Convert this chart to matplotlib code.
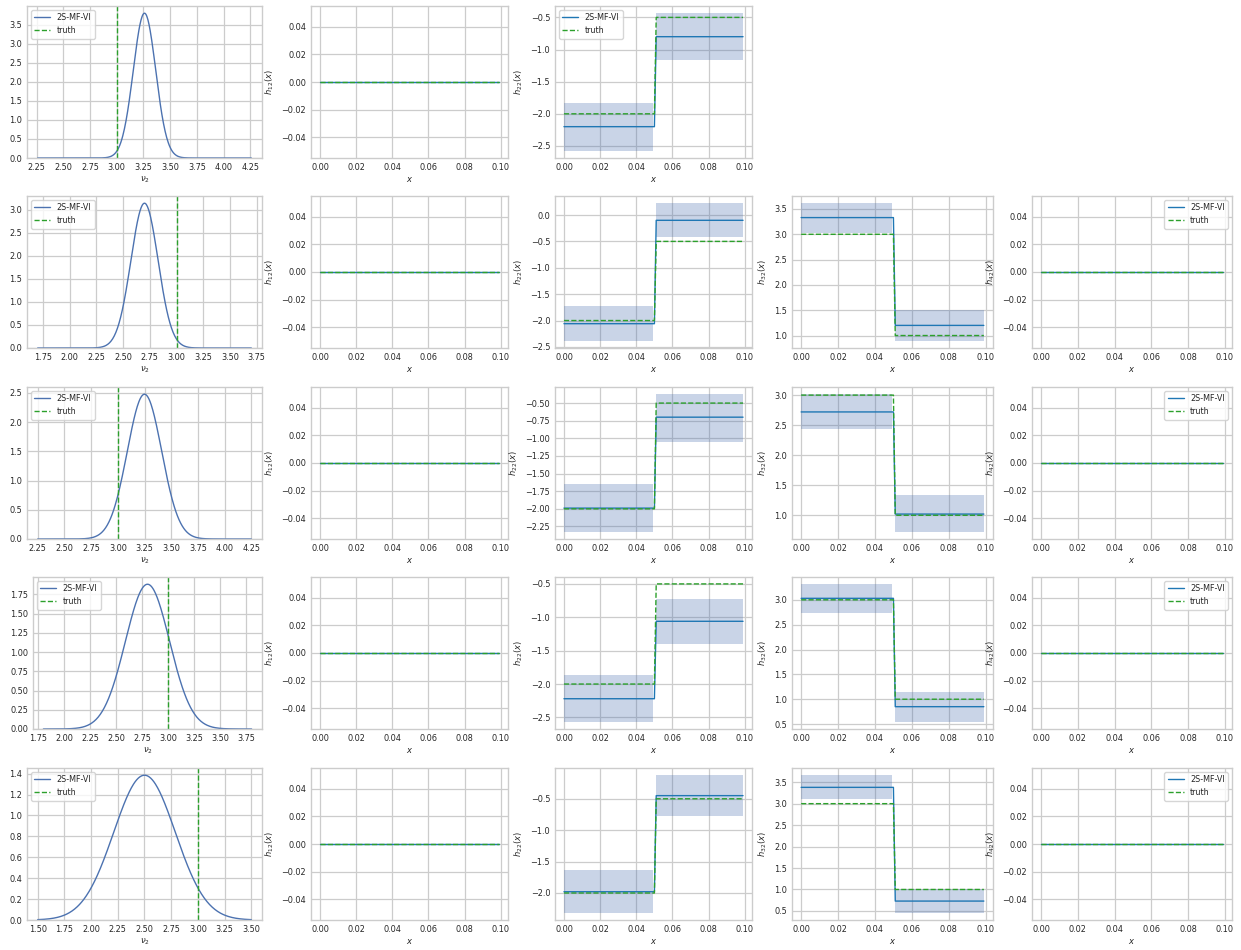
import numpy as np
import matplotlib
matplotlib.use("Agg")
import matplotlib.pyplot as plt
from matplotlib.ticker import MultipleLocator
import seaborn as sns

sns.set_theme(style="whitegrid")
plt.rcParams.update({
    "font.size": 5.9,
    "axes.labelsize": 6.0,
    "xtick.labelsize": 5.9,
    "ytick.labelsize": 5.9,
    "legend.fontsize": 5.8,
    "axes.linewidth": 1.0,
    "grid.linewidth": 0.9,
    "xtick.major.size": 0,
    "ytick.major.size": 0,
    "xtick.major.pad": 3.5,
    "ytick.major.pad": 3.5,
})

# posterior of nu_2 per run (mean, std), truth = 3
nu_mean = [3.26, 2.70, 3.25, 2.80, 2.50]
nu_std = [0.105, 0.127, 0.161, 0.212, 0.288]
nu_true = 3.0

# h22: [left, right] posterior means and bands
h22_true = [-2.0, -0.5]
h22_mean = [[-2.20, -0.80], [-2.06, -0.10], [-1.99, -0.70], [-2.22, -1.06], [-1.98, -0.45]]
h22_lo = [[-2.58, -1.17], [-2.39, -0.42], [-2.33, -1.05], [-2.57, -1.40], [-2.32, -0.78]]
h22_hi = [[-1.83, -0.43], [-1.73, 0.23], [-1.65, -0.37], [-1.87, -0.72], [-1.64, -0.12]]

# h32 (rows 2-5)
h32_true = [3.0, 1.0]
h32_mean = [[3.33, 1.20], [2.72, 1.02], [3.03, 0.85], [3.38, 0.73]]
h32_lo = [[3.03, 0.89], [2.43, 0.72], [2.73, 0.54], [3.10, 0.45]]
h32_hi = [[3.62, 1.51], [3.02, 1.33], [3.32, 1.15], [3.67, 1.00]]

x = np.arange(100) / 1000.0
split = 51

C_DENS = "#4c72b0"
C_H = "#1f77b4"
C_TRUE = "#2ca02c"

W, H = 1241, 950
col_l = [27, 311, 555, 792, 1032]
col_r = [262, 508, 752, 993, 1232]
col1_l = [27, 27, 27, 33, 27]
row_t = [6, 196, 387, 577, 768]
row_h = 152

fig = plt.figure(figsize=(W / 100, H / 100), dpi=100)


def make_ax(r, c):
    left = col1_l[r] if c == 0 else col_l[c]
    return fig.add_axes([left / W, 1 - (row_t[r] + row_h) / H,
                         (col_r[c] - left) / W, row_h / H])


def step_vals(pair):
    v = np.empty_like(x)
    v[:split] = pair[0]
    v[split:] = pair[1]
    return v


def step_panel(ax, mean, lo, hi, true, label, legend_loc=None):
    ax.fill_between(x[:split - 1], lo[0], hi[0], color=C_DENS, alpha=0.3, lw=0)
    ax.fill_between(x[split:], lo[1], hi[1], color=C_DENS, alpha=0.3, lw=0)
    ax.plot(x, step_vals(mean), color=C_H, lw=1.0, label="2S-MF-VI")
    ax.plot(x, step_vals(true), color=C_TRUE, lw=1.0, ls="--", label="truth")
    ax.set_xlabel("$x$", labelpad=2)
    ax.set_ylabel(label)
    ax.set_xticks([0, 0.02, 0.04, 0.06, 0.08, 0.10])
    if legend_loc:
        ax.legend(loc=legend_loc)


def zero_panel(ax, label, legend=False):
    ax.plot(x, np.zeros_like(x), color=C_H, lw=1.0, label="2S-MF-VI")
    ax.plot(x, np.zeros_like(x), color=C_TRUE, lw=1.0, ls="--", label="truth")
    ax.set_xlabel("$x$", labelpad=2)
    ax.set_ylabel(label)
    ax.set_xticks([0, 0.02, 0.04, 0.06, 0.08, 0.10])
    if legend:
        ax.legend(loc="upper right")


for r in range(5):
    # density of nu_2
    ax = make_ax(r, 0)
    g = np.linspace(nu_mean[r] - 1, nu_mean[r] + 1, 400)
    pdf = np.exp(-0.5 * ((g - nu_mean[r]) / nu_std[r]) ** 2) / (nu_std[r] * np.sqrt(2 * np.pi))
    ax.plot(g, pdf, color=C_DENS, lw=1.0, label="2S-MF-VI")
    ax.axvline(nu_true, color=C_TRUE, lw=1.0, ls="--", label="truth")
    ax.set_ylim(bottom=0)
    ax.xaxis.set_major_locator(MultipleLocator(0.25))
    ax.set_xlabel(r"$\nu_2$", labelpad=2)
    ax.legend(loc="upper left")

    zero_panel(make_ax(r, 1), "$h_{12}(x)$")

    step_panel(make_ax(r, 2), h22_mean[r], h22_lo[r], h22_hi[r], h22_true,
               "$h_{22}(x)$", legend_loc="upper left" if r == 0 else None)

    if r > 0:
        step_panel(make_ax(r, 3), h32_mean[r - 1], h32_lo[r - 1], h32_hi[r - 1],
                   h32_true, "$h_{32}(x)$")
        zero_panel(make_ax(r, 4), "$h_{42}(x)$", legend=True)

fig.savefig("out.png", dpi=100)
